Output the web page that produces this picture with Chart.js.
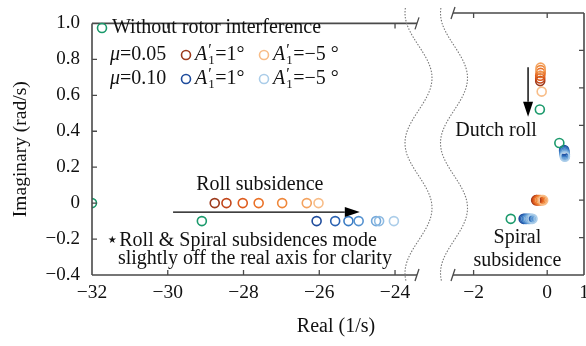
<!DOCTYPE html>
<html>
<head>
<meta charset="utf-8">
<script src="https://cdn.jsdelivr.net/npm/chart.js@4.4.0/dist/chart.umd.min.js"></script>
<style>
  html, body { margin: 0; padding: 0; background: #fff; }
  #wrap { position: relative; width: 586px; height: 346px; overflow: hidden; }
  #wrap canvas { position: absolute; left: 0; top: 0; }
</style>
</head>
<body>
<div id="wrap">
  <canvas id="leftPanel" width="586" height="346" style="width:586px;height:346px"></canvas>
  <canvas id="rightPanel" width="600" height="346" style="width:600px;height:346px"></canvas>
</div>
<script>
// --- axes ---
var yTicks = [-0.4, -0.2, 0, 0.2, 0.4, 0.6, 0.8, 1.0];
var leftXTicks = [-32, -30, -28, -26, -24];
var rightXTicks = [-2, 0, 1];

// --- eigenvalues (real, imaginary), A'1 = 1° ... -5° ---
var rollBaseRe = [-32, -29.1];
var rollBaseIm = [0, -0.1];
var roll05Re = [-28.76, -28.45, -28.02, -27.6, -26.98, -26.33, -26.02];
var roll05Im = [0, 0, 0, 0, 0, 0, 0];
var roll10Re = [-26.07, -25.58, -25.23, -24.96, -24.5, -24.42, -24.03];
var roll10Im = [-0.1, -0.1, -0.1, -0.1, -0.1, -0.1, -0.1];

var dutchBaseRe = [-0.2, 0.33];
var dutchBaseIm = [0.484, 0.305];
var dutch05Re = [-0.19, -0.19, -0.19, -0.18, -0.18, -0.18, -0.15];
var dutch05Im = [0.636, 0.65, 0.665, 0.68, 0.695, 0.708, 0.58];
var dutch10Re = [0.46, 0.46, 0.47, 0.47, 0.48, 0.48, 0.48];
var dutch10Im = [0.268, 0.262, 0.255, 0.248, 0.242, 0.236, 0.232];

var spiralBaseRe = [-0.99];
var spiralBaseIm = [-0.1];
var spiral05Re = [-0.3, -0.28, -0.25, -0.22, -0.18, -0.14, -0.11];
var spiral05Im = [0, 0, 0, 0, 0, 0, 0];
var spiral10Re = [-0.64, -0.6, -0.56, -0.52, -0.48, -0.44, -0.4];
var spiral10Im = [-0.1, -0.1, -0.1, -0.1, -0.1, -0.1, -0.1];

// --- styling ---
var green = "#1b9a6c";
var shades05 = ["#9c3a1c", "#c2461b", "#de5c1e", "#ea7127", "#ef873a", "#f4a35f", "#f8bd88"];
var shades10 = ["#1f4c9c", "#2a62b2", "#3b7cc4", "#5592d0", "#73a8da", "#8fbbe2", "#abcde9"];
var axisColor = "#4a4a4a";
var serif = "'Liberation Serif', 'Times New Roman', serif";
var textSize = 20;

Chart.defaults.font.family = serif;
Chart.defaults.color = "#111";

function pts(re, im) {
  return re.map(function (r, i) { return { x: r, y: im[i] }; });
}

function series(re, im, color) {
  return {
    data: pts(re, im),
    showLine: false,
    pointRadius: 4.5,
    pointBorderWidth: 1.6,
    pointBorderColor: color,
    pointBackgroundColor: "rgba(0,0,0,0)"
  };
}

function fmtY(v) {
  if (v === 0) return "0";
  return (v < 0 ? "\u2212" : "") + Math.abs(v).toFixed(1);
}
function fmtX(v) {
  return (v < 0 ? "\u2212" : "") + Math.abs(v);
}

function arrow(ctx, x1, y1, x2, y2) {
  var a = Math.atan2(y2 - y1, x2 - x1), len = 15, w = 5;
  ctx.save();
  ctx.strokeStyle = "#000";
  ctx.fillStyle = "#000";
  ctx.lineWidth = 1.4;
  ctx.beginPath();
  ctx.moveTo(x1, y1);
  ctx.lineTo(x2 - len * Math.cos(a), y2 - len * Math.sin(a));
  ctx.stroke();
  ctx.beginPath();
  ctx.moveTo(x2, y2);
  ctx.lineTo(x2 - len * Math.cos(a) + w * Math.sin(a), y2 - len * Math.sin(a) - w * Math.cos(a));
  ctx.lineTo(x2 - len * Math.cos(a) - w * Math.sin(a), y2 - len * Math.sin(a) + w * Math.cos(a));
  ctx.closePath();
  ctx.fill();
  ctx.restore();
}

function label(ctx, text, x, y) {
  ctx.save();
  ctx.font = textSize + "px " + serif;
  ctx.fillStyle = "#111";
  ctx.textAlign = "center";
  ctx.textBaseline = "middle";
  ctx.fillText(text, x, y);
  ctx.restore();
}

function circle(ctx, x, y, color) {
  ctx.save();
  ctx.strokeStyle = color;
  ctx.lineWidth = 1.6;
  ctx.beginPath();
  ctx.arc(x, y, 4.5, 0, Math.PI * 2);
  ctx.stroke();
  ctx.restore();
}

// A'1=value, with italic A, prime above and subscript 1 below
function aLabel(ctx, x, y, rest) {
  ctx.save();
  ctx.fillStyle = "#111";
  ctx.textBaseline = "middle";
  ctx.textAlign = "left";
  ctx.font = "italic " + textSize + "px " + serif;
  ctx.fillText("A", x, y);
  x += ctx.measureText("A").width;
  ctx.font = "italic 16px " + serif;
  ctx.fillText("\u2032", x, y - 4);
  ctx.font = "13px " + serif;
  ctx.fillText("1", x + 1, y + 6);
  x += 8;
  ctx.font = textSize + "px " + serif;
  ctx.fillText(rest, x, y);
  ctx.restore();
}

function muLabel(ctx, x, y, val) {
  ctx.save();
  ctx.fillStyle = "#111";
  ctx.textBaseline = "middle";
  ctx.textAlign = "left";
  ctx.font = "italic " + textSize + "px " + serif;
  ctx.fillText("\u03bc", x, y);
  x += ctx.measureText("\u03bc").width;
  ctx.font = textSize + "px " + serif;
  ctx.fillText("=" + val, x, y);
  ctx.restore();
}

// frame with inward ticks; sides = which borders to draw
function frame(chart, sides, xTickVals) {
  var ctx = chart.ctx, a = chart.chartArea;
  var xs = chart.scales.x, ys = chart.scales.y;
  ctx.save();
  ctx.strokeStyle = axisColor;
  ctx.lineWidth = 1.6;
  ctx.beginPath();
  ctx.moveTo(a.left, a.top); ctx.lineTo(a.right, a.top);
  ctx.moveTo(a.left, a.bottom); ctx.lineTo(a.right, a.bottom);
  if (sides.left) { ctx.moveTo(a.left, a.top); ctx.lineTo(a.left, a.bottom); }
  if (sides.right) { ctx.moveTo(a.right, a.top); ctx.lineTo(a.right, a.bottom); }
  ctx.stroke();
  ctx.lineWidth = 1.3;
  ctx.beginPath();
  xTickVals.forEach(function (v) {
    var px = xs.getPixelForValue(v);
    if (px <= a.left + 1 || px >= a.right - 1) return;
    ctx.moveTo(px, a.top); ctx.lineTo(px, a.top + 5);
    ctx.moveTo(px, a.bottom); ctx.lineTo(px, a.bottom - 5);
  });
  yTicks.forEach(function (v) {
    var py = ys.getPixelForValue(v);
    if (py <= a.top + 1 || py >= a.bottom - 1) return;
    if (sides.left) { ctx.moveTo(a.left, py); ctx.lineTo(a.left + 5, py); }
    if (sides.right) { ctx.moveTo(a.right, py); ctx.lineTo(a.right - 5, py); }
  });
  ctx.stroke();
  // break marks at the open ends
  var bx = sides.left ? a.right : a.left;
  ctx.beginPath();
  [a.top, a.bottom].forEach(function (yy) {
    ctx.moveTo(bx - 2, yy + 6); ctx.lineTo(bx + 2, yy - 6);
  });
  ctx.stroke();
  ctx.restore();
}

function waves(ctx) {
  ctx.save();
  ctx.strokeStyle = "#777";
  ctx.lineWidth = 1.1;
  ctx.setLineDash([1.5, 1.5]);
  [418.5, 454].forEach(function (cx) {
    ctx.beginPath();
    for (var y = 8; y <= 282; y += 1) {
      var x = cx - 13.5 * Math.cos(2 * Math.PI * (y - 13) / 130);
      if (y === 8) ctx.moveTo(x, y); else ctx.lineTo(x, y);
    }
    ctx.stroke();
  });
  ctx.restore();
}

var yScale = {
  type: "linear",
  min: -0.4,
  max: 1.0,
  afterBuildTicks: function (s) { s.ticks = yTicks.map(function (v) { return { value: v }; }); }
};

// --- left panel: roll subsidence ---
new Chart(document.getElementById("leftPanel"), {
  type: "scatter",
  data: {
    datasets: [
      series(rollBaseRe, rollBaseIm, green),
      series(roll05Re, roll05Im, shades05),
      series(roll10Re, roll10Im, shades10)
    ]
  },
  options: {
    responsive: false,
    animation: false,
    layout: { padding: { left: 0, right: 586 - 417, top: 13, bottom: 0 } },
    plugins: { legend: { display: false }, tooltip: { enabled: false } },
    scales: {
      x: {
        type: "linear",
        min: -32,
        max: -23.42,
        afterBuildTicks: function (s) { s.ticks = leftXTicks.map(function (v) { return { value: v }; }); },
        afterFit: function (s) { s.height = 71; },
        grid: { display: false, drawTicks: false },
        border: { display: false },
        ticks: { font: { size: 19.5 }, color: "#111", padding: 6, maxRotation: 0, autoSkip: false, callback: fmtX }
      },
      y: Object.assign({}, yScale, {
        afterFit: function (s) { s.width = 92; },
        grid: { display: false, drawTicks: false },
        border: { display: false },
        ticks: { font: { size: 19 }, color: "#111", padding: 12, callback: fmtY },
        title: { display: true, text: "Imaginary (rad/s)", font: { size: 19.5 }, color: "#111", padding: { top: 9, bottom: 0 } }
      })
    }
  },
  plugins: [{
    id: "leftDecor",
    afterDraw: function (chart) {
      var ctx = chart.ctx, xs = chart.scales.x, ys = chart.scales.y;
      frame(chart, { left: true }, leftXTicks);
      waves(ctx);
      // legend
      circle(ctx, 102, 28, green);
      ctx.save();
      ctx.font = textSize + "px " + serif;
      ctx.fillStyle = "#111";
      ctx.textBaseline = "middle";
      ctx.fillText("Without rotor interference", 112, 28);
      ctx.restore();
      muLabel(ctx, 110, 55, "0.05");
      circle(ctx, 186, 55, shades05[0]);
      aLabel(ctx, 195, 55, "=1\u00b0");
      circle(ctx, 264, 55, shades05[6]);
      aLabel(ctx, 273, 55, "=\u22125 \u00b0");
      muLabel(ctx, 110, 79, "0.10");
      circle(ctx, 186, 79, shades10[0]);
      aLabel(ctx, 195, 79, "=1\u00b0");
      circle(ctx, 264, 79, shades10[6]);
      aLabel(ctx, 273, 79, "=\u22125 \u00b0");
      // annotations
      label(ctx, "Roll subsidence", xs.getPixelForValue(-27.57), ys.getPixelForValue(0.1));
      arrow(ctx, xs.getPixelForValue(-29.86), ys.getPixelForValue(-0.05),
        xs.getPixelForValue(-24.93), ys.getPixelForValue(-0.05));
      label(ctx, "\u22c6Roll & Spiral subsidences mode", xs.getPixelForValue(-28.05), ys.getPixelForValue(-0.21));
      label(ctx, "slightly off the real axis for clarity", xs.getPixelForValue(-27.7), ys.getPixelForValue(-0.31));
      label(ctx, "Real (1/s)", 336, 327);
    }
  }]
});

// --- right panel: dutch roll and spiral ---
new Chart(document.getElementById("rightPanel"), {
  type: "scatter",
  data: {
    datasets: [
      series(dutchBaseRe, dutchBaseIm, green),
      series(dutch05Re, dutch05Im, shades05),
      series(dutch10Re, dutch10Im, shades10),
      series(spiralBaseRe, spiralBaseIm, green),
      series(spiral05Re, spiral05Im, shades05),
      series(spiral10Re, spiral10Im, shades10)
    ]
  },
  options: {
    responsive: false,
    animation: false,
    layout: { padding: { left: 453, right: 600 - 584, top: 13, bottom: 0 } },
    plugins: { legend: { display: false }, tooltip: { enabled: false } },
    scales: {
      x: {
        type: "linear",
        min: -2.56,
        max: 1.0,
        afterBuildTicks: function (s) { s.ticks = rightXTicks.map(function (v) { return { value: v }; }); },
        afterFit: function (s) { s.height = 71; },
        grid: { display: false, drawTicks: false },
        border: { display: false },
        ticks: { font: { size: 19.5 }, color: "#111", padding: 6, maxRotation: 0, autoSkip: false, callback: fmtX }
      },
      y: Object.assign({}, yScale, { display: false })
    }
  },
  plugins: [{
    id: "rightDecor",
    afterDraw: function (chart) {
      var ctx = chart.ctx, xs = chart.scales.x, ys = chart.scales.y;
      frame(chart, { right: true }, rightXTicks);
      arrow(ctx, xs.getPixelForValue(-0.52), ys.getPixelForValue(0.71),
        xs.getPixelForValue(-0.52), ys.getPixelForValue(0.445));
      label(ctx, "Dutch roll", xs.getPixelForValue(-1.39), ys.getPixelForValue(0.37));
      label(ctx, "Spiral", xs.getPixelForValue(-0.81), ys.getPixelForValue(-0.2));
      label(ctx, "subsidence", xs.getPixelForValue(-0.81), ys.getPixelForValue(-0.325));
    }
  }]
});
</script>
</body>
</html>
